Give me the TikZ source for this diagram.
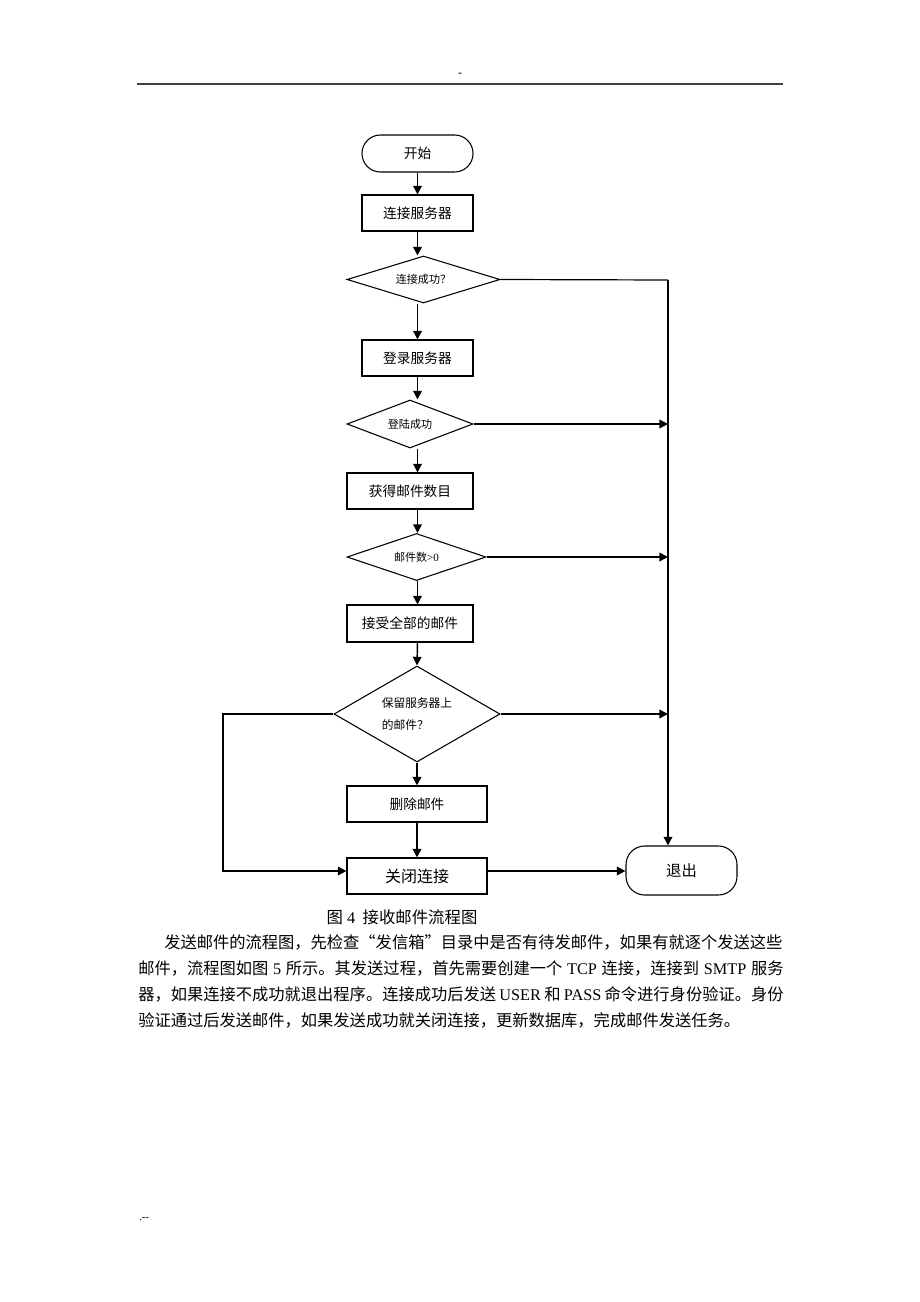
\documentclass[tikz,border=0pt]{standalone}
\usepackage{fontspec}
\setmainfont{Noto Sans CJK SC}
\newfontfamily\latin{Liberation Serif}
\usetikzlibrary{shapes.geometric,arrows.meta}
\XeTeXlinebreaklocale "zh"
\XeTeXlinebreakskip=0pt plus 1pt

\begin{document}
\begin{tikzpicture}[x=0.75pt, y=-0.75pt,
    box/.style={draw, line width=0.8pt, inner sep=0pt, font=\fontsize{10.3}{12}\selectfont},
    cond/.style={draw, diamond, line width=0.8pt, inner sep=0pt, font=\fontsize{8.3}{10}\selectfont},
    arr/.style={line width=1.1pt, -{Triangle[length=6.5pt, width=6.5pt]}},
    wire/.style={line width=0.9pt},
    txt/.style={anchor=west, inner sep=0pt, font=\fontsize{12.2}{14}\selectfont}]
    \useasboundingbox (0,0) rectangle (920,1302);

    % page head and foot
    \node[font=\fontsize{9}{10}\selectfont] at (460,75) (dash) {\latin -};
    \draw[line width=1.4pt, black!75] (137,84) -- (783,84);
    \node[anchor=west, inner sep=0pt, font=\fontsize{8}{9}\selectfont] at (139,1219) (foot) {\latin .--};

    % flow chart
    \node[box, rounded corners=13.8pt, minimum width=83.25pt, minimum height=27.75pt] at (417.5,153.5) (start) {开始};
    \node[box, minimum width=83.25pt, minimum height=27pt] at (417.5,213) (conn) {连接服务器};
    \node[cond, aspect=3.26, minimum width=114.75pt, minimum height=35.25pt] at (423.5,279.5) (okconn) {连接成功？};
    \node[box, minimum width=83.25pt, minimum height=27pt] at (417.5,358) (login) {登录服务器};
    \node[cond, aspect=2.6, minimum width=94.5pt, minimum height=36pt] at (410,424) (oklogin) {登陆成功};
    \node[box, minimum width=94.5pt, minimum height=27pt] at (410,491) (count) {获得邮件数目};
    \node[cond, aspect=2.96, minimum width=104.25pt, minimum height=35.25pt] at (416.5,557) (hasmail) {邮件数{\latin >0}};
    \node[box, minimum width=94.5pt, minimum height=27.75pt] at (410,623.5) (recv) {接受全部的邮件};
    \node[cond, aspect=1.73, minimum width=124.5pt, minimum height=72pt, align=left, font=\fontsize{8.8}{10.5}\selectfont] at (417,714) (keep) {保留服务器上\\[6.5pt]的邮件？};
    \node[box, minimum width=105pt, minimum height=27pt] at (417,804) (del) {删除邮件};
    \node[box, minimum width=105pt, minimum height=27pt, font=\fontsize{12}{14}\selectfont] at (417,876) (close) {关闭连接};
    \node[box, rounded corners=14pt, minimum width=83.25pt, minimum height=36.75pt, font=\fontsize{11.5}{14}\selectfont] at (681.5,870.5) (quit) {退出};

    \coordinate (rail) at (668,280);
    \coordinate (back) at (223,871);

    \draw[arr] (start) -- (conn);
    \draw[arr] (conn) -- (conn |- okconn.north);
    \draw[arr] (conn |- okconn.south) -- (login);
    \draw[arr] (login) -- (login |- oklogin.north);
    \draw[arr] (login |- oklogin.south) -- (login |- count.north);
    \draw[arr] (login |- count.south) -- (login |- hasmail.north);
    \draw[arr] (login |- hasmail.south) -- (login |- recv.north);
    \draw[arr] (login |- recv.south) -- (keep.north);
    \draw[arr] (keep) -- (del);
    \draw[arr] (del) -- (close);

    \draw[wire] (okconn.east) -- (rail);
    \draw[arr] (rail) -- (rail |- quit.north);
    \draw[arr] (oklogin.east) -- (oklogin.east -| rail);
    \draw[arr] (hasmail.east) -- (hasmail.east -| rail);
    \draw[arr] (keep.east) -- (keep.east -| rail);

    \draw[arr] (keep.west) -| (back) -- (back -| close.west);
    \draw[arr] (back -| close.east) -- (quit.west |- back);

    % caption and text
    \node[font=\fontsize{12.3}{14}\selectfont] at (402,917) (cap) {图{\latin\ 4}\ \ 接收邮件流程图};
    \node[txt] at (164,942) (l1) {\makebox[464pt][s]{发送邮件的流程图，先检查“发信箱”目录中是否有待发邮件，如果有就逐个发送这些}};
    \node[txt] at (138,968) (l2) {\makebox[484pt][s]{邮件，流程图如图{\latin\ 5 }所示。其发送过程，首先需要创建一个{\latin\ TCP }连接，连接到{\latin\ SMTP }服务}};
    \node[txt] at (138,994) (l3) {\makebox[484pt][s]{器，如果连接不成功就退出程序。连接成功后发送{\latin\ USER }和{\latin\ PASS }命令进行身份验证。身份}};
    \node[txt] at (138,1020) (l4) {验证通过后发送邮件，如果发送成功就关闭连接，更新数据库，完成邮件发送任务。};
\end{tikzpicture}
\end{document}
